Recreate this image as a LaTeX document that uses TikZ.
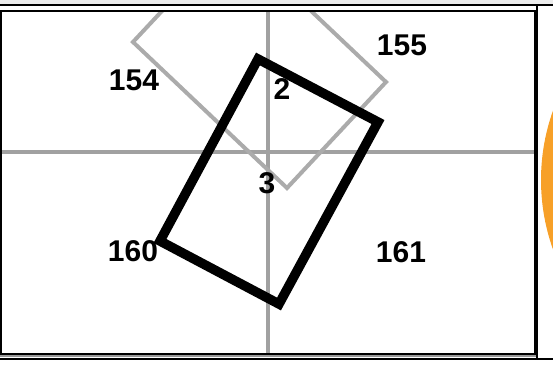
\documentclass[tikz,border=0pt]{standalone}
\usepackage{fontspec}
\setmainfont{Liberation Sans}
\begin{document}
\begin{tikzpicture}[x=1pt,y=-1pt,
  lbl/.style={font=\fontsize{30}{31}\selectfont\bfseries, inner sep=0pt, text=black},
  gridline/.style={draw=black!37, line width=4pt},
  ghost/.style={draw=black!33, line width=4pt, line join=miter},
  block/.style={draw=black, line width=9.5pt, line join=miter},
  frame/.style={draw=black, line width=2pt}]
\useasboundingbox (0,0) rectangle (553,368);
\fill[black!7] (0,0) rectangle (553,4);
% orange ring to the right
\begin{scope}
\clip (538,0) rectangle (553,368);
\draw[draw={rgb,255:red,247;green,160;blue,40}, line width=12pt] (747,180) circle (200);
\end{scope}
% cell
\coordinate (c1) at (1,11);
\coordinate (c2) at (535,354);
\begin{scope}
\clip (c1) rectangle (c2);
\coordinate (gl) at (0,152);
\coordinate (gr) at (535,152);
\coordinate (gt) at (268,11);
\coordinate (gb) at (268,354);
\draw[gridline] (gl) -- (gr);
\draw[gridline] (gt) -- (gb);
\coordinate (sL) at (133,42);
\coordinate (sB) at (287,188);
\coordinate (sR) at (386,82);
\coordinate (sT) at (232,-64);
\draw[ghost] (sL) -- (sB) -- (sR) -- (sT) -- cycle;
\end{scope}
\draw[black, line width=1.8pt] (c1) rectangle (c2);
\draw[black!40, line width=2pt] (0,356) -- (536,356);
\coordinate (ft1) at (0,5);
\coordinate (ft2) at (553,5);
\coordinate (fb1) at (0,358.5);
\coordinate (fb2) at (553,358.5);
\coordinate (fv1) at (537,4);
\coordinate (fv2) at (537,359);
\draw[frame] (ft1) -- (ft2);
\draw[frame] (fb1) -- (fb2);
\draw[frame] (fv1) -- (fv2);
% labels
\node[lbl] (n154) at (134,80) {154};
\node[lbl] (n155) at (402,45) {155};
\node[lbl] (n160) at (133,251) {160};
\node[lbl] (n161) at (401,252) {161};
\node[lbl] (n2) at (282,89) {2};
\node[lbl] (n3) at (267,183) {3};
% black rectangle
\coordinate (bT) at (258,59);
\coordinate (bR) at (378,122);
\coordinate (bB) at (279,304);
\coordinate (bL) at (160,241);
\draw[block] (bT) -- (bR) -- (bB) -- (bL) -- cycle;
\end{tikzpicture}
\end{document}
